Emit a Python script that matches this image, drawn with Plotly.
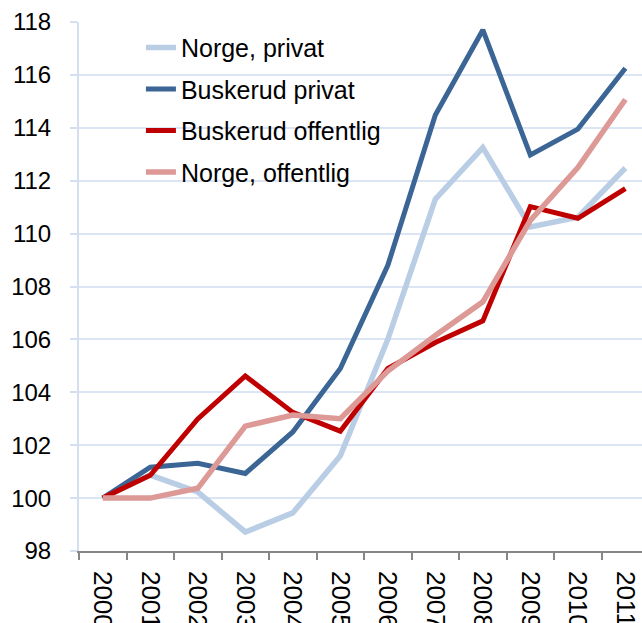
import plotly.graph_objects as go

years = ["2000", "2001", "2002", "2003", "2004", "2005", "2006", "2007", "2008", "2009", "2010", "2011"]
norge_privat = [100, 100.87, 100.23, 98.72, 99.44, 101.6, 106.0, 111.3, 113.25, 110.25, 110.62, 112.48]
buskerud_privat = [100, 101.17, 101.32, 100.93, 102.5, 104.9, 108.8, 114.48, 117.7, 112.97, 113.95, 116.25]
buskerud_offentlig = [100, 100.86, 102.99, 104.62, 103.24, 102.53, 104.9, 105.88, 106.7, 111.02, 110.58, 111.7]
norge_offentlig = [100, 100.0, 100.37, 102.72, 103.14, 103.0, 104.8, 106.15, 107.42, 110.5, 112.5, 115.07]
yticks = [98, 100, 102, 104, 106, 108, 110, 112, 114, 116, 118]

series = [
    ("Norge, privat", norge_privat, "#b9cde5", 5.5),
    ("Buskerud privat", buskerud_privat, "#3a6594", 5),
    ("Buskerud offentlig", buskerud_offentlig, "#c00000", 5),
    ("Norge, offentlig", norge_offentlig, "#dc9996", 5.5),
]

xpos = list(range(len(years)))
fig = go.Figure()
for i, (name, vals, color, w) in enumerate(series):
    fig.add_trace(go.Scatter(x=xpos, y=vals, mode="lines", name=name,
                             line=dict(color=color, width=w),
                             legendgroup="g%d" % i))

font = "Liberation Sans, Arial, sans-serif"
fig.update_layout(
    width=642, height=623,
    margin=dict(l=79, r=0, t=22, b=72, autoexpand=False),
    paper_bgcolor="white", plot_bgcolor="white",
    font=dict(family=font, size=24, color="black"),
    showlegend=True,
    legend=dict(x=0.11, y=0.995, xanchor="left", yanchor="top",
                bgcolor="rgba(0,0,0,0)", font=dict(size=25),
                tracegroupgap=6, itemwidth=30),
    xaxis=dict(
        range=[-0.5, 11.35], tickmode="array", tickvals=xpos, ticktext=years,
        tickangle=90, ticks="", showgrid=False, zeroline=False, automargin=False,
        showline=True, linecolor="#868686", linewidth=1.5,
        tickfont=dict(size=26), ticklabelstandoff=13,
        minor=dict(tickmode="array", tickvals=[x - 0.5 for x in xpos] + [11.5],
                   ticks="outside", ticklen=7, tickcolor="#868686", tickwidth=1.5,
                   showgrid=False),
    ),
    yaxis=dict(
        range=[98, 118], tickmode="array", tickvals=yticks, automargin=False,
        ticks="outside", ticklen=7, tickcolor="#d5dff0", tickwidth=1.5,
        showgrid=True, gridcolor="#dce5f3", gridwidth=2,
        showline=True, linecolor="#d5dff0", linewidth=2,
        zeroline=False, tickfont=dict(size=24), ticklabelstandoff=14,
    ),
)
fig.write_html("out.html", config={"displayModeBar": False},
               post_script="document.body.style.margin='0';")
